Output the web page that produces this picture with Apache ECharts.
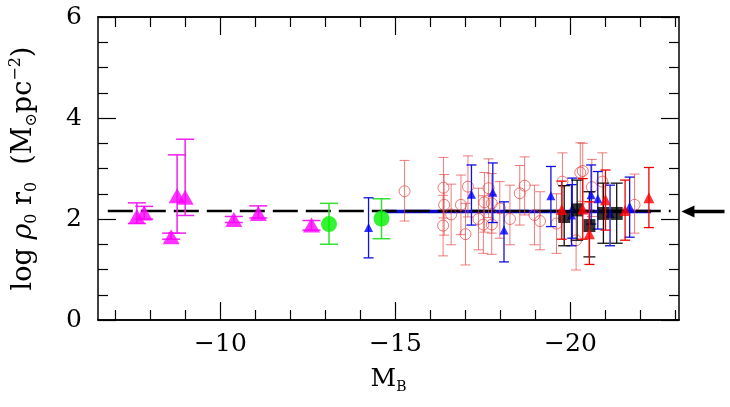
<!DOCTYPE html>
<html lang="en">
<head>
    <meta charset="utf-8">
    <title>log rho0 r0 vs MB</title>
    <script src="https://cdn.jsdelivr.net/npm/echarts@6/dist/echarts.min.js"></script>
    <style>
        html, body { margin: 0; padding: 0; background: #fff; }
        #main { width: 730px; height: 407px; }
    </style>
</head>
<body>
    <div id="main"></div>
    <script type="text/javascript">
        // rows: [MB, log rho0 r0, lower, upper]
        var dwarfTri = [
            [-7.61, 2.05, 1.91, 2.32],
            [-7.82, 2.12, 2.00, 2.25],
            [-8.59, 1.65, 1.60, 1.72],
            [-8.76, 2.46, 1.72, 3.27],
            [-8.99, 2.43, 2.07, 3.58],
            [-10.38, 1.99, 1.93, 2.05],
            [-11.08, 2.11, 2.02, 2.26],
            [-12.60, 1.88, 1.78, 1.97]
        ];
        var greenDots = [
            [-13.10, 1.90, 1.50, 2.31],
            [-14.60, 2.01, 1.61, 2.40]
        ];
        var blueTri = [
            [-14.23, 1.83, 1.23, 2.42],
            [-17.17, 2.49, 1.88, 3.07],
            [-17.78, 2.53, 1.93, 3.11],
            [-18.10, 1.78, 1.15, 2.34],
            [-19.44, 2.46, 1.85, 3.04],
            [-20.05, 2.21, 1.62, 2.81],
            [-20.03, 2.08, 1.47, 2.68],
            [-20.59, 2.48, 1.90, 3.07],
            [-20.78, 2.40, 1.80, 2.94],
            [-21.13, 2.11, 1.47, 2.67],
            [-21.69, 2.25, 1.64, 2.83]
        ];
        var redTri = [
            [-19.75, 2.19, 1.60, 2.75],
            [-20.35, 2.20, 1.60, 2.80],
            [-20.54, 1.71, 1.10, 2.34],
            [-21.00, 2.38, 1.78, 2.97],
            [-21.56, 2.17, 1.58, 2.77],
            [-22.24, 2.42, 1.83, 3.02]
        ];
        var blackSq = [
            [-19.82, 2.05, 1.47, 2.66],
            [-20.19, 2.18, 1.58, 2.77],
            [-20.54, 1.87, 1.25, 2.54],
            [-20.94, 2.11, 1.52, 2.71],
            [-21.32, 2.11, 1.52, 2.71]
        ];
        var redRings = [
            [-15.26, 2.55, 1.96, 3.16],
            [-16.37, 2.62, 2.02, 3.22],
            [-16.39, 2.28, 1.68, 2.88],
            [-16.36, 1.87, 1.27, 2.47],
            [-16.59, 2.09, 1.49, 2.69],
            [-16.87, 2.28, 1.69, 2.87],
            [-17.00, 1.70, 1.09, 2.31],
            [-17.07, 2.64, 2.04, 3.25],
            [-17.37, 2.00, 1.39, 2.61],
            [-17.54, 2.33, 1.74, 2.92],
            [-17.51, 1.89, 1.32, 2.46],
            [-17.66, 2.61, 2.03, 3.19],
            [-17.75, 2.31, 1.72, 2.90],
            [-17.75, 1.89, 1.30, 2.48],
            [-17.98, 2.21, 1.62, 2.74],
            [-18.27, 2.00, 1.49, 2.67],
            [-18.55, 2.51, 1.88, 3.06],
            [-18.69, 2.66, 2.08, 3.23],
            [-18.97, 2.08, 1.49, 2.67],
            [-19.13, 1.96, 1.39, 2.54],
            [-19.60, 1.91, 1.32, 2.50],
            [-19.77, 2.74, 2.16, 3.31],
            [-20.28, 2.92, 2.30, 3.51],
            [-20.35, 2.95, 2.35, 3.50],
            [-20.16, 1.58, 0.99, 2.18],
            [-20.61, 2.63, 2.05, 3.18],
            [-20.91, 2.74, 2.16, 3.31],
            [-21.83, 2.28, 1.72, 2.89]
        ];
        // horizontal reference levels: [from MB, to MB, level]
        var meanLevel = [-6.78, -22.86, 2.16];
        var fitLevel = [-14.70, -22.30, 2.15];
        var arrowMark = [-24.40, -23.17, 2.15];

        var xMin = -23.1, xMax = -6.5;
        var xMajorTicks = [-20, -15, -10];
        var xMinorTicks = [-23, -22, -21, -19, -18, -17, -16, -14, -13, -12, -11, -9, -8, -7];
        var yTickLabels = [0, 2, 4, 6];

        var fontFamily = 'DejaVu Serif';

        function xAxisFor(pos, ticks, len, withLabels) {
            return {
                type: 'value', position: pos, min: xMin, max: xMax, inverse: true,
                axisLine: {show: true, onZero: false, lineStyle: {color: '#000', width: 1.5}},
                axisTick: {show: true, inside: true, length: len, customValues: ticks,
                    lineStyle: {color: '#000', width: 1.2}},
                axisLabel: withLabels ? {
                    show: true, customValues: ticks, margin: 12,
                    color: '#000', fontFamily: fontFamily, fontSize: 25,
                    formatter: function (v) { return String(v).replace('-', '\u2212'); }
                } : {show: false},
                splitLine: {show: false}
            };
        }

        function yAxisFor(pos, withLabels) {
            return {
                type: 'value', position: pos, min: 0, max: 6, interval: 2,
                axisLine: {show: true, lineStyle: {color: '#000', width: 1.5}},
                axisTick: {show: true, inside: true, length: 18, lineStyle: {color: '#000', width: 1.2}},
                minorTick: {show: true, splitNumber: 4, length: 10, lineStyle: {color: '#000', width: 1.2}},
                axisLabel: withLabels ? {
                    show: true, margin: 16, color: '#000', fontFamily: fontFamily, fontSize: 25,
                    formatter: function (v) { return yTickLabels.indexOf(v) >= 0 ? String(v) : ''; }
                } : {show: false},
                splitLine: {show: false}
            };
        }

        function errorBars(rows, color, width, cap, z) {
            return {
                type: 'custom', z: z, silent: true,
                data: rows.map(function (r) { return [r[0], r[2], r[3]]; }),
                encode: {x: 0, y: [1, 2]},
                renderItem: function (params, api) {
                    var x = api.value(0);
                    var top = api.coord([x, api.value(2)]);
                    var bot = api.coord([x, api.value(1)]);
                    var st = {stroke: color, lineWidth: width};
                    return {
                        type: 'group',
                        children: [
                            {type: 'line', shape: {x1: top[0], y1: top[1], x2: bot[0], y2: bot[1]}, style: st},
                            {type: 'line', shape: {x1: top[0] - cap, y1: top[1], x2: top[0] + cap, y2: top[1]}, style: st},
                            {type: 'line', shape: {x1: bot[0] - cap, y1: bot[1], x2: bot[0] + cap, y2: bot[1]}, style: st}
                        ]
                    };
                }
            };
        }

        function points(rows, symbol, size, style, z) {
            return {
                type: 'scatter', z: z, silent: true,
                symbol: symbol, symbolSize: size,
                itemStyle: style,
                data: rows.map(function (r) { return [r[0], r[1]]; })
            };
        }

        var myChart = echarts.init(document.getElementById('main'));
        myChart.setOption({
            animation: false,
            backgroundColor: '#fff',
            grid: {left: 88, right: 51, top: 17, bottom: 87},
            xAxis: [
                xAxisFor('bottom', xMajorTicks, 18, true),
                xAxisFor('bottom', xMinorTicks, 10, false),
                xAxisFor('top', xMajorTicks, 18, false),
                xAxisFor('top', xMinorTicks, 10, false)
            ],
            yAxis: [
                yAxisFor('left', true),
                yAxisFor('right', false)
            ],
            series: [
                {
                    type: 'line', z: 2, silent: true, symbol: 'none',
                    data: [[fitLevel[0], fitLevel[2]], [fitLevel[1], fitLevel[2]]],
                    lineStyle: {color: '#0a0acc', width: 3.5}
                },
                {
                    type: 'line', z: 3, silent: true, symbol: 'none',
                    data: [[meanLevel[0], meanLevel[2]], [meanLevel[1], meanLevel[2]]],
                    lineStyle: {color: '#000', width: 2.5, type: [25, 8]}
                },
                {
                    type: 'custom', z: 3, silent: true,
                    data: [arrowMark],
                    renderItem: function (params, api) {
                        var lv = api.value(2);
                        var a = api.coord([api.value(0), lv]);
                        var b = api.coord([api.value(1), lv]);
                        return {
                            type: 'group',
                            children: [
                                {type: 'line', shape: {x1: a[0], y1: a[1], x2: b[0] + 10, y2: b[1]},
                                    style: {stroke: '#000', lineWidth: 3.5}},
                                {type: 'polygon', shape: {points: [[b[0], b[1]], [b[0] + 13, b[1] - 6], [b[0] + 13, b[1] + 6]]},
                                    style: {fill: '#000'}}
                            ]
                        };
                    }
                },
                errorBars(redRings, 'rgba(228,70,70,0.7)', 1, 5, 4),
                points(redRings, 'circle', 11, {color: 'rgba(255,255,255,0)', borderColor: 'rgba(228,60,60,0.85)', borderWidth: 1}, 5),
                errorBars(dwarfTri, '#f020f0', 1.5, 9, 6),
                points(dwarfTri, 'triangle', [17, 15], {color: '#ff00ff'}, 7),
                errorBars(greenDots, '#33e033', 1.5, 9, 6),
                points(greenDots, 'circle', 16, {color: '#00f000'}, 7),
                errorBars(blueTri, '#1010e0', 1.3, 5, 8),
                points(blueTri, 'triangle', 9, {color: '#0000ff'}, 9),
                errorBars(blackSq, '#111', 1.3, 6, 8),
                points(blackSq, 'rect', [12, 13], {color: '#000'}, 9),
                errorBars(redTri, '#ee0000', 1.3, 5, 10),
                points(redTri, 'triangle', 11, {color: '#ff0000'}, 11)
            ]
        });
        myChart.setOption({
            xAxis: [{
                name: '{m|M}{s|B}', nameLocation: 'middle', nameGap: 44,
                nameTextStyle: {
                    rich: {
                        m: {fontFamily: fontFamily, fontSize: 25, lineHeight: 30, color: '#000'},
                        s: {fontFamily: fontFamily, fontSize: 14, lineHeight: 14, verticalAlign: 'bottom', color: '#000'}
                    }
                }
            }],
            yAxis: [{
                name: '{m|log }{i|\u03c1}{s|0}{m| r}{s|0}{m|  (M}{s|\u2299}{m|pc}{p|\u22122}{m|)}',
                nameLocation: 'middle', nameGap: 58, nameRotate: 90,
                nameTextStyle: {
                    rich: {
                        m: {fontFamily: fontFamily, fontSize: 27, lineHeight: 32, color: '#000'},
                        i: {fontFamily: fontFamily, fontSize: 27, lineHeight: 32, fontStyle: 'italic', color: '#000'},
                        s: {fontFamily: fontFamily, fontSize: 16, lineHeight: 15, verticalAlign: 'bottom', color: '#000'},
                        p: {fontFamily: fontFamily, fontSize: 16, lineHeight: 15, verticalAlign: 'top', color: '#000'}
                    }
                }
            }]
        });
    </script>
</body>
</html>
